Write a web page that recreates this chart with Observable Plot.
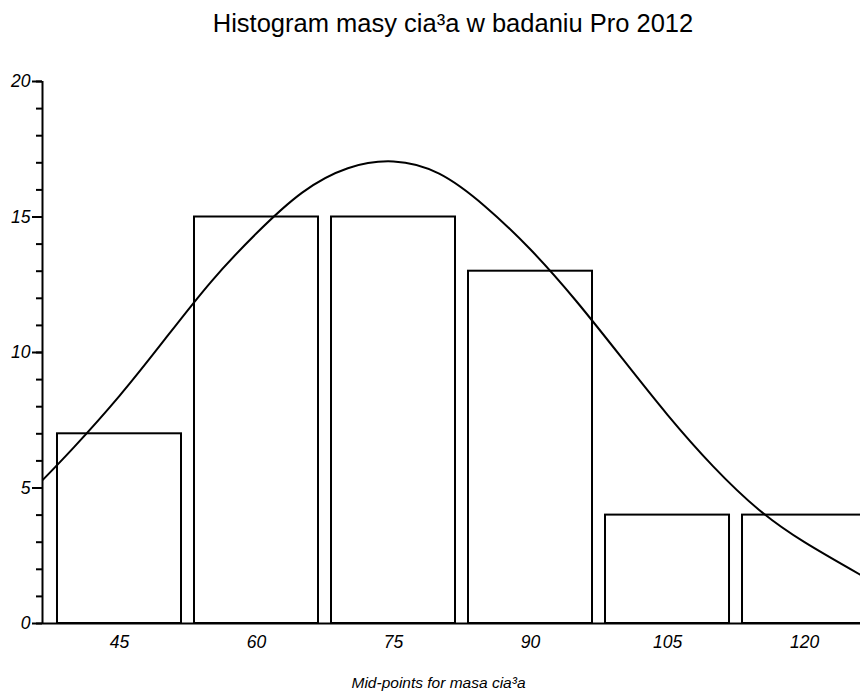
<!DOCTYPE html>
<html>
<head>
<meta charset="utf-8">
<script src="https://cdn.jsdelivr.net/npm/d3@7"></script>
<script src="https://cdn.jsdelivr.net/npm/@observablehq/plot@0.6"></script>
<style>
  body { margin: 0; background: #fff; font-family: "Liberation Sans", Arial, sans-serif; }
  #wrap { position: relative; width: 860px; height: 700px; }
  #title { position: absolute; top: 11px; left: 453px; transform: translateX(-50%); white-space: nowrap;
           font-size: 25.5px; line-height: 25px; color: #000; }
  #chart { position: absolute; top: 60px; left: 0; }
  .hist g[aria-label$="tick label"] { font-size: 17.5px; font-style: italic; }
  .hist g[aria-label$="tick label"] text { font-size: 17.5px; font-style: italic; }
  .hist .xtitle text { font-size: 15.5px; font-style: italic; }
</style>
</head>
<body>
<div id="wrap">
  <div id="title">Histogram masy cia³a w badaniu Pro 2012</div>
  <div id="chart"></div>
</div>
<script>
// Histogram data (mid-points and counts)
const midpoints = [45, 60, 75, 90, 105, 120];
const counts = [7, 15, 15, 13, 4, 4];
const binWidth = 15;

// Fitted normal curve
const curveX = [36.6, 40, 45, 50, 55, 60, 65, 70, 75, 80, 85, 90, 95, 100, 105, 110, 115, 120, 126.1];
const curveY = [5.3, 6.5, 8.4, 10.5, 12.6, 14.4, 15.9, 16.8, 17.05, 16.6, 15.4, 13.8, 11.9, 9.8, 7.7, 5.8, 4.2, 3.0, 1.8];

const yMajor = [0, 5, 10, 15, 20];
const yMinor = d3.range(0, 21);
const xLabel = "Mid-points for masa cia³a";

const bars = midpoints.map((m, i) => ({mid: m, count: counts[i]}));
const curve = curveX.map((x, i) => ({x, y: curveY[i]}));

const xDomain = [36.57, 126.13];

const chart = Plot.plot({
  width: 860,
  height: 640,
  marginLeft: 42,
  marginRight: 0,
  marginTop: 21,
  marginBottom: 77,
  className: "hist",
  style: {fontFamily: "'Liberation Sans', Arial, sans-serif", color: "#000", background: "#fff"},
  x: {domain: xDomain},
  y: {domain: [0, 20]},
  marks: [
    Plot.rectY(bars, {
      x1: d => d.mid - binWidth / 2,
      x2: d => d.mid + binWidth / 2,
      y: "count",
      fill: "white",
      stroke: "black",
      strokeWidth: 2,
      insetLeft: 6.5,
      insetRight: 6.5,
      clip: true
    }),
    Plot.line(curve, {x: "x", y: "y", curve: "natural", stroke: "black", strokeWidth: 2, clip: true}),
    Plot.ruleY([0], {stroke: "black", strokeWidth: 2}),
    Plot.ruleX([xDomain[0]], {stroke: "black", strokeWidth: 2}),
    Plot.axisY({ticks: yMinor, tickSize: 6, text: null, strokeWidth: 2, label: null}),
    Plot.axisY({ticks: yMajor, tickSize: 10, tickPadding: 2, strokeWidth: 2, fontSize: 17.5, fontStyle: "italic", label: null}),
    Plot.axisX({ticks: midpoints, tickSize: 0, tickPadding: 12, fontSize: 17.5, fontStyle: "italic", label: null}),
    Plot.text([xLabel], {frameAnchor: "bottom", dy: 60, dx: -13, fontSize: 15.5, fontStyle: "italic", lineAnchor: "middle", fill: "black", className: "xtitle"})
  ]
});
document.getElementById("chart").appendChild(chart);
</script>
</body>
</html>
